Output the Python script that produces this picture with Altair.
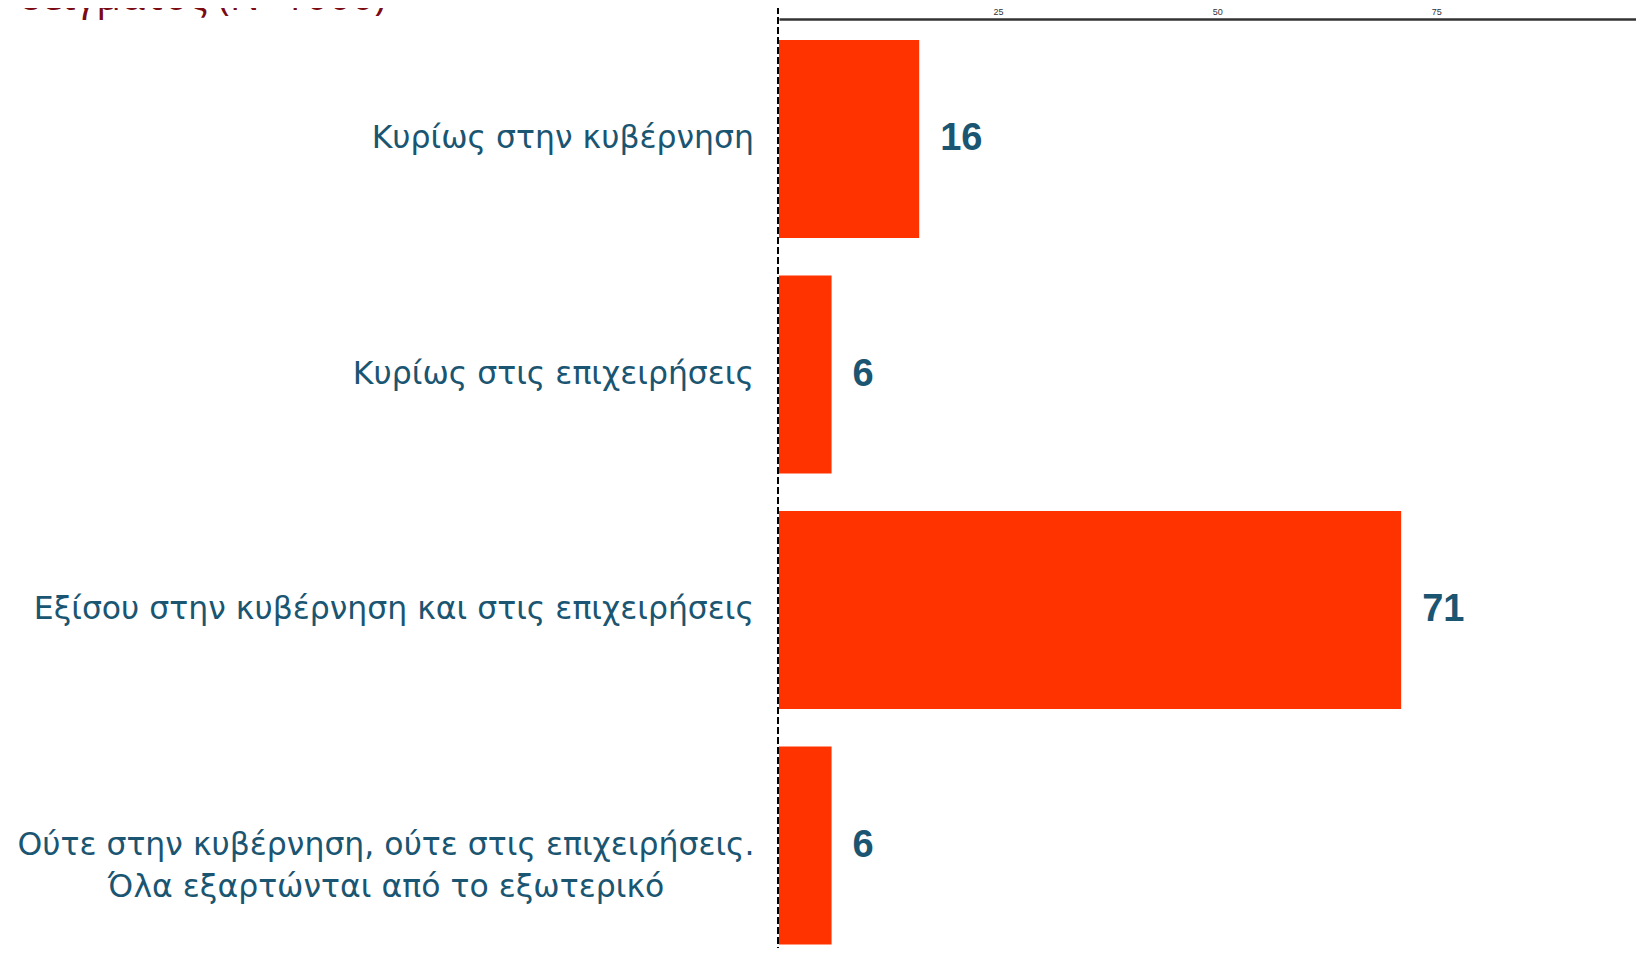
import altair as alt
import pandas as pd

categories = [
    "Κυρίως στην κυβέρνηση",
    "Κυρίως στις επιχειρήσεις",
    "Εξίσου στην κυβέρνηση και στις επιχειρήσεις",
    "Ούτε στην κυβέρνηση, ούτε στις επιχειρήσεις. Όλα εξαρτώνται από το εξωτερικό",
]
values = [16, 6, 71, 6]
label_text = [
    "Κυρίως στην κυβέρνηση",
    "Κυρίως στις επιχειρήσεις",
    "Εξίσου στην κυβέρνηση και στις επιχειρήσεις",
    "Ούτε στην κυβέρνηση, ούτε στις επιχειρήσεις.\nΌλα εξαρτώνται από το εξωτερικό",
]
n_lines = [1, 1, 1, 2]
x_tick_values = [25, 50, 75]
title_fragment = "δείγματος (N=1000)"

df = pd.DataFrame({"category": categories, "value": values,
                   "label": label_text, "nlines": n_lines})

TEXT_COLOR = "#1A5571"
BAR_COLOR = "#FF3300"

y_enc = alt.Y("category:N", sort=categories, axis=None,
              scale=alt.Scale(paddingInner=0.159, paddingOuter=0.052, align=0.86))
x_enc = alt.X("value:Q",
              scale=alt.Scale(domain=[0, 97.8], nice=False, zero=True),
              axis=alt.Axis(orient="top", values=x_tick_values, title=None, grid=False,
                            ticks=False, domain=True, domainColor="#333333",
                            domainWidth=2.5, labelFontSize=9, labelColor="#333333",
                            labelPadding=3, labelFont="Liberation Sans"))

base = alt.Chart(df)

bars = base.mark_bar(color=BAR_COLOR).encode(y=y_enc, x=x_enc)

value_labels = base.mark_text(align="left", baseline="middle", dx=21, fontSize=38,
                              fontWeight="bold", font="Liberation Sans",
                              color=TEXT_COLOR).encode(
    y=y_enc, x=alt.X("value:Q"), text=alt.Text("value:Q"))

single_labels = base.transform_filter("datum.nlines == 1").mark_text(
    align="right", baseline="middle", fontSize=31.5, font="DejaVu Sans",
    color=TEXT_COLOR).encode(y=y_enc, x=alt.value(-25), text="label:N")

multi_labels = base.transform_filter("datum.nlines == 2").mark_text(
    align="center", baseline="middle", fontSize=31.5, font="DejaVu Sans",
    color=TEXT_COLOR, lineBreak="\n", lineHeight=42).encode(
    y=y_enc, x=alt.value(-393), text="label:N")

rule = alt.Chart(pd.DataFrame({"x": [0]})).mark_rule(
    color="black", strokeDash=[7, 3], strokeWidth=2, xOffset=-1).encode(
    x="x:Q", y=alt.value(-12), y2=alt.value(935))

title_text = alt.Chart(pd.DataFrame({"t": [title_fragment]})).mark_text(
    align="left", baseline="alphabetic", fontSize=40, font="Open Sans",
    color="#7B0A12").encode(x=alt.value(-760), y=alt.value(-9), text="t:N")

chart = alt.layer(bars, value_labels, single_labels, multi_labels, rule, title_text).properties(
    width=857, height=929,
    padding={"left": 771, "top": 11, "right": 0, "bottom": 0},
    autosize=alt.AutoSizeParams(type="none"),
).configure_view(stroke=None)

chart.save("out.html", embed_options={"renderer": "svg", "actions": False})
